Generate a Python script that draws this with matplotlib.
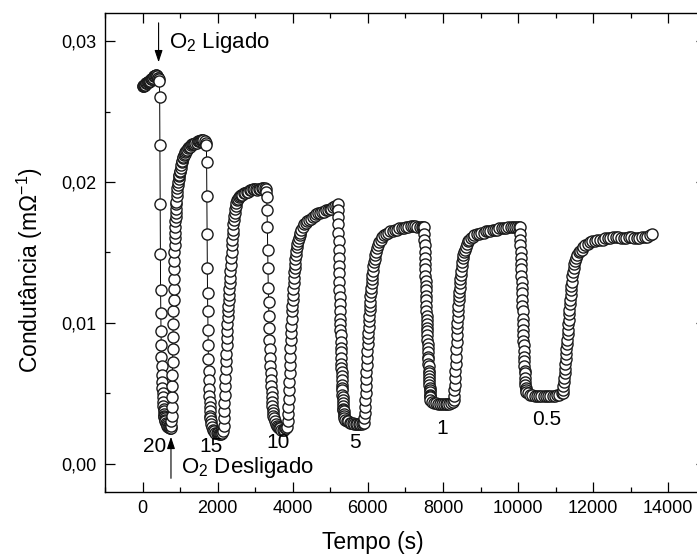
import matplotlib
matplotlib.use("Agg")
import matplotlib.pyplot as plt
from matplotlib.ticker import MultipleLocator, FuncFormatter

plt.rcParams['font.family'] = ['Liberation Sans', 'DejaVu Sans']
plt.rcParams['mathtext.fontset'] = 'custom'
plt.rcParams['mathtext.rm'] = 'Liberation Sans'
plt.rcParams['mathtext.it'] = 'Liberation Sans:italic'

# (tempo s, condutancia mOhm^-1), segment by segment
start = [(0,0.0268),(15,0.0268),(30,0.0268),(45,0.0269),(60,0.0269),(75,0.0269),(90,0.0270),(105,0.0270),(120,0.0270),(135,0.0271),(150,0.0271),(165,0.0271),(180,0.0272),(195,0.0272),(210,0.0272),(225,0.0273),(240,0.0273),(255,0.0273),(270,0.0274),(285,0.0274),(300,0.0275),(315,0.0275),(330,0.0275),(345,0.0276),(360,0.0276),(375,0.0275),(390,0.0275),(405,0.0274),(420,0.0274),(435,0.0273)]

dip20 = [(450,0.0272),(456,0.0260),(462,0.0226),(468,0.0184),(474,0.0149),(480,0.0123),(486,0.0107),(492,0.0094),(498,0.0084),(504,0.0076),(510,0.0069),(516,0.0063),(522,0.0058),(528,0.0054),(534,0.0050),(540,0.0047),(546,0.0044),(552,0.0041),(558,0.0039),(564,0.0037),(570,0.0035),(576,0.0034),(582,0.0033),(588,0.0032),(594,0.0031),(600,0.0030),(620,0.0029),(640,0.0028),(660,0.0027),(680,0.0026),(700,0.0026),(720,0.0025),(740,0.0025)]

rise20 = [(760,0.0025),(765,0.0027),(770,0.0030),(775,0.0034),(780,0.0040),(785,0.0047),(790,0.0055),(795,0.0063),(800,0.0072),(805,0.0081),(810,0.0090),(815,0.0099),(820,0.0108),(825,0.0116),(830,0.0124),(835,0.0131),(840,0.0138),(845,0.0144),(850,0.0150),(855,0.0155),(860,0.0160),(865,0.0164),(870,0.0168),(875,0.0172),(880,0.0175),(885,0.0178),(890,0.0181),(895,0.0184),(900,0.0186),(910,0.0190),(920,0.0193),(930,0.0196),(940,0.0198),(950,0.0200),(960,0.0202),(970,0.0204),(980,0.0205),(990,0.0207),(1000,0.0208),(1015,0.0210),(1030,0.0212),(1045,0.0214),(1060,0.0215),(1075,0.0217),(1090,0.0218),(1105,0.0219),(1120,0.0220),(1140,0.0221),(1160,0.0222),(1180,0.0223),(1200,0.0224),(1230,0.0225),(1260,0.0225),(1290,0.0226),(1320,0.0227),(1350,0.0227),(1380,0.0227),(1410,0.0228),(1440,0.0228),(1470,0.0229),(1500,0.0229),(1530,0.0229),(1560,0.0230),(1590,0.0230),(1620,0.0230),(1650,0.0229),(1680,0.0228)]

dip15 = [(1700,0.0226),(1706,0.0214),(1712,0.0190),(1718,0.0163),(1724,0.0139),(1730,0.0121),(1736,0.0108),(1742,0.0095),(1748,0.0084),(1754,0.0074),(1760,0.0066),(1766,0.0059),(1772,0.0053),(1778,0.0048),(1784,0.0044),(1790,0.0040),(1796,0.0037),(1802,0.0034),(1808,0.0032),(1814,0.0030),(1820,0.0028),(1850,0.0026),(1880,0.0024),(1910,0.0023),(1940,0.0022),(1970,0.0022),(2000,0.0022),(2030,0.0021),(2060,0.0021),(2090,0.0021),(2120,0.0022)]

rise15 = [(2150,0.0023),(2158,0.0027),(2166,0.0032),(2174,0.0037),(2182,0.0043),(2190,0.0049),(2198,0.0055),(2206,0.0061),(2214,0.0067),(2222,0.0073),(2230,0.0078),(2238,0.0084),(2246,0.0089),(2254,0.0094),(2262,0.0099),(2270,0.0104),(2278,0.0108),(2286,0.0112),(2294,0.0116),(2302,0.0120),(2310,0.0124),(2320,0.0128),(2330,0.0132),(2340,0.0137),(2350,0.0141),(2360,0.0146),(2370,0.0150),(2380,0.0155),(2390,0.0159),(2400,0.0163),(2410,0.0166),(2420,0.0170),(2430,0.0173),(2440,0.0176),(2450,0.0178),(2465,0.0181),(2480,0.0183),(2500,0.0185),(2520,0.0187),(2545,0.0188),(2570,0.0189),(2600,0.0190),(2630,0.0191),(2660,0.0191),(2700,0.0192),(2740,0.0192),(2780,0.0193),(2820,0.0193),(2860,0.0194),(2900,0.0194),(2940,0.0195),(2980,0.0195),(3020,0.0195),(3060,0.0194),(3100,0.0195),(3140,0.0195),(3180,0.0196),(3220,0.0196),(3260,0.0196),(3290,0.0195)]

dip10 = [(3300,0.0193),(3308,0.0189),(3316,0.0180),(3324,0.0168),(3332,0.0152),(3340,0.0139),(3348,0.0125),(3356,0.0115),(3364,0.0105),(3372,0.0096),(3380,0.0088),(3388,0.0081),(3396,0.0075),(3404,0.0069),(3412,0.0064),(3420,0.0059),(3428,0.0055),(3436,0.0051),(3444,0.0047),(3452,0.0044),(3460,0.0041),(3468,0.0038),(3476,0.0036),(3484,0.0034),(3492,0.0032),(3520,0.0030),(3550,0.0028),(3580,0.0027),(3610,0.0026),(3640,0.0025),(3670,0.0025),(3700,0.0024),(3730,0.0024),(3760,0.0024),(3790,0.0025),(3820,0.0025)]

rise10 = [(3860,0.0026),(3868,0.0030),(3876,0.0035),(3884,0.0040),(3892,0.0046),(3900,0.0052),(3908,0.0058),(3916,0.0064),(3924,0.0070),(3932,0.0076),(3940,0.0082),(3948,0.0088),(3956,0.0093),(3964,0.0098),(3972,0.0103),(3980,0.0108),(3988,0.0112),(3996,0.0116),(4004,0.0120),(4012,0.0124),(4020,0.0128),(4030,0.0132),(4040,0.0136),(4050,0.0139),(4060,0.0142),(4070,0.0145),(4080,0.0148),(4095,0.0151),(4110,0.0154),(4125,0.0156),(4140,0.0158),(4160,0.0160),(4180,0.0162),(4200,0.0164),(4230,0.0166),(4260,0.0168),(4300,0.0170),(4340,0.0171),(4380,0.0172),(4430,0.0173),(4480,0.0174),(4530,0.0175),(4580,0.0176),(4630,0.0177),(4680,0.0178),(4730,0.0178),(4780,0.0179),(4830,0.0179),(4880,0.0180),(4930,0.0180),(4980,0.0181),(5030,0.0181),(5080,0.0182),(5130,0.0183),(5170,0.0183)]

dip5 = [(5200,0.0184),(5204,0.0180),(5208,0.0175),(5212,0.0170),(5216,0.0164),(5220,0.0158),(5224,0.0152),(5228,0.0146),(5232,0.0140),(5236,0.0135),(5240,0.0129),(5244,0.0123),(5248,0.0118),(5252,0.0113),(5256,0.0108),(5260,0.0103),(5264,0.0099),(5268,0.0095),(5272,0.0091),(5276,0.0086),(5280,0.0082),(5284,0.0079),(5288,0.0075),(5292,0.0071),(5296,0.0068),(5300,0.0065),(5304,0.0062),(5308,0.0059),(5312,0.0056),(5316,0.0054),(5320,0.0052),(5324,0.0049),(5328,0.0047),(5332,0.0045),(5336,0.0043),(5340,0.0041),(5344,0.0039),(5348,0.0038),(5352,0.0037),(5356,0.0035),(5360,0.0034),(5364,0.0032),(5400,0.0031),(5440,0.0030),(5480,0.0030),(5520,0.0029),(5560,0.0029),(5600,0.0029),(5640,0.0028),(5680,0.0028),(5720,0.0028),(5760,0.0028),(5800,0.0028),(5840,0.0028),(5880,0.0029)]

rise5 = [(5900,0.0029),(5908,0.0032),(5916,0.0036),(5924,0.0040),(5932,0.0045),(5940,0.0050),(5948,0.0055),(5956,0.0060),(5964,0.0065),(5972,0.0070),(5980,0.0075),(5988,0.0080),(5996,0.0085),(6004,0.0089),(6012,0.0093),(6020,0.0097),(6028,0.0101),(6036,0.0105),(6044,0.0109),(6052,0.0112),(6060,0.0115),(6070,0.0119),(6080,0.0122),(6090,0.0125),(6100,0.0128),(6110,0.0131),(6120,0.0134),(6135,0.0137),(6150,0.0140),(6165,0.0143),(6180,0.0145),(6200,0.0148),(6220,0.0150),(6245,0.0153),(6270,0.0155),(6300,0.0157),(6340,0.0159),(6380,0.0161),(6430,0.0162),(6480,0.0163),(6540,0.0164),(6600,0.0165),(6660,0.0165),(6720,0.0166),(6780,0.0166),(6840,0.0167),(6900,0.0167),(6960,0.0167),(7020,0.0168),(7080,0.0168),(7140,0.0169),(7200,0.0169),(7260,0.0169),(7320,0.0168),(7380,0.0168),(7440,0.0168),(7480,0.0168)]

dip1 = [(7500,0.0168),(7504,0.0163),(7508,0.0159),(7512,0.0155),(7516,0.0150),(7520,0.0146),(7524,0.0142),(7528,0.0138),(7532,0.0133),(7536,0.0130),(7540,0.0126),(7544,0.0123),(7548,0.0119),(7552,0.0116),(7556,0.0112),(7560,0.0108),(7564,0.0105),(7568,0.0102),(7572,0.0099),(7576,0.0096),(7580,0.0094),(7584,0.0091),(7588,0.0088),(7592,0.0085),(7596,0.0082),(7600,0.0079),(7604,0.0076),(7608,0.0074),(7612,0.0071),(7616,0.0069),(7620,0.0066),(7624,0.0064),(7628,0.0062),(7632,0.0060),(7636,0.0058),(7640,0.0056),(7644,0.0054),(7648,0.0052),(7652,0.0051),(7656,0.0049),(7660,0.0048),(7664,0.0047),(7668,0.0045),(7720,0.0044),(7770,0.0043),(7820,0.0043),(7870,0.0042),(7920,0.0042),(7970,0.0042),(8020,0.0042),(8070,0.0042),(8120,0.0042),(8170,0.0042),(8220,0.0043),(8270,0.0044)]

rise1 = [(8290,0.0045),(8298,0.0048),(8306,0.0052),(8314,0.0056),(8322,0.0061),(8330,0.0066),(8338,0.0071),(8346,0.0076),(8354,0.0081),(8362,0.0086),(8370,0.0091),(8378,0.0096),(8386,0.0100),(8394,0.0104),(8402,0.0108),(8410,0.0112),(8418,0.0116),(8426,0.0119),(8434,0.0122),(8442,0.0125),(8452,0.0128),(8462,0.0131),(8472,0.0134),(8482,0.0137),(8495,0.0140),(8510,0.0143),(8525,0.0146),(8540,0.0148),(8560,0.0150),(8580,0.0152),(8605,0.0154),(8630,0.0156),(8660,0.0158),(8700,0.0159),(8740,0.0160),(8790,0.0161),(8840,0.0162),(8900,0.0163),(8960,0.0163),(9020,0.0164),(9080,0.0164),(9140,0.0165),(9200,0.0165),(9260,0.0165),(9320,0.0166),(9380,0.0166),(9440,0.0166),(9500,0.0167),(9560,0.0167),(9620,0.0167),(9680,0.0167),(9740,0.0168),(9800,0.0168),(9860,0.0168),(9920,0.0168),(9980,0.0168),(10030,0.0168)]

dip05 = [(10050,0.0168),(10055,0.0163),(10060,0.0159),(10065,0.0155),(10070,0.0150),(10075,0.0146),(10080,0.0142),(10085,0.0138),(10090,0.0133),(10095,0.0129),(10100,0.0125),(10105,0.0121),(10110,0.0116),(10115,0.0112),(10120,0.0108),(10125,0.0103),(10130,0.0099),(10135,0.0095),(10140,0.0091),(10145,0.0087),(10150,0.0084),(10155,0.0080),(10160,0.0076),(10165,0.0073),(10170,0.0069),(10175,0.0066),(10180,0.0064),(10185,0.0061),(10190,0.0058),(10195,0.0056),(10200,0.0054),(10205,0.0052),(10210,0.0051),(10260,0.0050),(10320,0.0049),(10380,0.0049),(10440,0.0048),(10500,0.0048),(10560,0.0048),(10620,0.0048),(10680,0.0048),(10740,0.0048),(10800,0.0048),(10860,0.0048),(10920,0.0048),(10980,0.0048),(11040,0.0049),(11100,0.0049),(11160,0.0050)]

rise05 = [(11190,0.0050),(11200,0.0052),(11210,0.0055),(11220,0.0058),(11230,0.0061),(11240,0.0064),(11250,0.0067),(11260,0.0071),(11270,0.0074),(11280,0.0078),(11290,0.0081),(11300,0.0085),(11310,0.0088),(11320,0.0092),(11330,0.0095),(11340,0.0099),(11350,0.0102),(11360,0.0106),(11370,0.0109),(11380,0.0113),(11390,0.0116),(11400,0.0120),(11410,0.0123),(11420,0.0126),(11430,0.0129),(11445,0.0133),(11460,0.0136),(11480,0.0139),(11500,0.0142),(11525,0.0144),(11550,0.0146),(11580,0.0148),(11610,0.0150),(11650,0.0151),(11690,0.0152),(11740,0.0154),(11790,0.0155),(11850,0.0156),(11910,0.0157),(11970,0.0158),(12040,0.0158),(12110,0.0159),(12180,0.0159),(12250,0.0159),(12320,0.0160),(12390,0.0160),(12460,0.0160),(12530,0.0161),(12600,0.0161),(12670,0.0161),(12740,0.0160),(12810,0.0160),(12880,0.0160),(12950,0.0161),(13020,0.0161),(13090,0.0160),(13160,0.0160),(13230,0.0160),(13300,0.0161),(13370,0.0161),(13440,0.0161),(13510,0.0162),(13570,0.0163)]

# O2 concentration labels under each dip: (text, tempo, condutancia)
dip_labels = [("20", 310, 0.0012), ("15", 1830, 0.0012), ("10", 3600, 0.0015),
              ("5", 5650, 0.0015), ("1", 7990, 0.0025), ("0.5", 10770, 0.0031)]

segments = [start, dip20, rise20, dip15, rise15, dip10, rise10,
            dip5, rise5, dip1, rise1, dip05, rise05]
tempo = [p[0] for seg in segments for p in seg]
cond = [p[1] for seg in segments for p in seg]

fig = plt.figure(figsize=(6.97, 5.55), dpi=100)
ax = fig.add_axes([105/697, 1 - 491.7/555, 600.8/697, 478.7/555])

ax.plot(tempo, cond, color='black', linewidth=0.7, marker='o', markersize=8,
        markerfacecolor='white', markeredgecolor='#1a1a1a', markeredgewidth=1.0)

ax.set_xlim(-1000, 15000)
ax.set_ylim(-0.002, 0.032)
ax.xaxis.set_major_locator(MultipleLocator(2000))
ax.xaxis.set_minor_locator(MultipleLocator(1000))
ax.yaxis.set_major_locator(MultipleLocator(0.01))
ax.yaxis.set_minor_locator(MultipleLocator(0.005))
ax.yaxis.set_major_formatter(FuncFormatter(lambda v, pos: f"{v:.2f}".replace('.', ',')))
ax.tick_params(which='both', direction='in', top=True, right=True, width=0.9, labelsize=13)
ax.tick_params(which='major', length=7, pad=6)
ax.tick_params(which='minor', length=3.5)
for s in ax.spines.values():
    s.set_linewidth(1.0)

ax.set_xlabel("Tempo (s)", fontsize=16.5)
ax.set_ylabel("Condutância (mΩ$^{-1}$)", fontsize=16.5)
ax.xaxis.set_label_coords(0.446, -0.107)
ax.xaxis.label.set_va('center')
ax.yaxis.set_label_coords(-0.125, 0.463)
ax.yaxis.label.set_va('center')

# O2 on / off arrows
arrow = dict(arrowstyle='-|>,head_length=0.6,head_width=0.2', color='black', lw=0.8,
             shrinkA=0, shrinkB=0, mutation_scale=12)
ax.annotate("", xy=(427, 0.0285), xytext=(427, 0.0313), arrowprops=arrow)
ax.text(712, 0.0299, "O$_2$ Ligado", fontsize=16, ha='left', va='center')
ax.annotate("", xy=(757, 0.0019), xytext=(757, -0.00105), arrowprops=arrow)
ax.text(1024, -0.0003, "O$_2$ Desligado", fontsize=16, ha='left', va='center')

for txt, tx, ty in dip_labels:
    ax.text(tx, ty, txt, fontsize=15, ha='center', va='center')

fig.savefig("out.png", dpi=100)
